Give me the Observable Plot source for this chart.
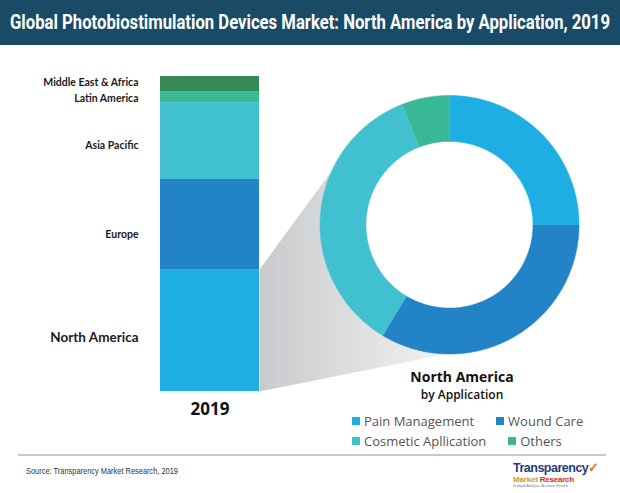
<!DOCTYPE html>
<html><head><meta charset="utf-8">
<script src="https://cdn.jsdelivr.net/npm/d3@7"></script>
<script src="https://cdn.jsdelivr.net/npm/@observablehq/plot@0.6"></script>
<style>
body{margin:0;background:#fff}
#root{position:relative;width:620px;height:493px;overflow:hidden;background:#fff;font-family:"Open Sans",sans-serif}
.abs{position:absolute}
.row{display:flex;align-items:center;height:20px;white-space:nowrap}
.item{display:inline-flex;align-items:center;margin-right:22px}
.sw{width:8px;height:8px;margin-right:4px;display:inline-block}
#titleText{display:inline-block;white-space:nowrap;font-family:Roboto,Arial,sans-serif;font-weight:bold;font-size:21px;line-height:24px;color:#fff;transform-origin:0 50%}
</style></head><body>
<div id="root">
  <div class="abs" style="left:0;top:0;width:620px;height:45px;background:#194b66;overflow:hidden">
    <div class="abs" style="left:10px;top:10px;width:600px"><span id="titleText">Global Photobiostimulation Devices Market: North America by Application, 2019</span></div>
  </div>
  <div id="donut" class="abs" style="left:0;top:47px;width:620px;height:408px"></div>
  <div id="bar" class="abs" style="left:0;top:47px;width:280px;height:380px"></div>
  <div class="abs" style="left:362px;top:369px;width:200px;text-align:center;font-weight:700;font-size:14px;line-height:15px;color:#111">North America</div>
  <div class="abs" style="left:362px;top:388px;width:200px;text-align:center;font-weight:600;font-size:12px;line-height:13px;color:#111">by Application</div>
  <div id="legend" class="abs" style="left:352px;top:411px;width:265px;font-size:13px;color:#555"></div>
  <div class="abs" style="left:18px;top:454px;width:588px;height:2px;background:#c8c8c8"></div>
  <svg class="abs" style="left:0;top:462px" width="300" height="16">
    <text x="26" y="11.5" textLength="152" lengthAdjust="spacingAndGlyphs" font-family="Liberation Sans, Arial, sans-serif" font-size="9.5" fill="#333">Source: Transparency Market Research, 2019</text>
  </svg>
  <div class="abs" style="left:513px;top:461px;width:85px;line-height:1;font-family:Arial,sans-serif">
    <div style="font-weight:bold;font-size:12.5px;color:#1f3d78;letter-spacing:-0.5px">Transparency<span style="color:#e8771e;font-size:13px">&#10003;</span></div>
    <div style="font-weight:bold;font-size:8px;color:#c9a118;letter-spacing:-0.2px;margin-top:1px">Market <span style="color:#d9262e">Research</span></div>
    <div style="font-size:3.5px;color:#777;margin-top:1px">In-depth Analysis. Accurate Results</div>
  </div>
</div>
<script>
const year = "2019";
const regions = ["North America", "Europe", "Asia Pacific", "Latin America", "Middle East & Africa"];
const regionShares = [38.7, 28.6, 24.4, 3.5, 4.8];
const regionColors = ["#1eaee3", "#2383c7", "#41c1cf", "#3bba96", "#368a55"];

const applications = ["Pain Management", "Wound Care", "Cosmetic Apllication", "Others"];
const applicationShares = [25.0, 33.6, 35.5, 5.9];
const applicationColors = ["#1eaee3", "#2383c7", "#41c1cf", "#38b894"];

// fit the condensed-looking title into the banner width
const tt = document.getElementById("titleText");
tt.style.transform = `scaleX(${600 / tt.getBoundingClientRect().width})`;

const regionTable = regions.map((r, i) => ({year, region: r, share: regionShares[i]}));

function labelMark(names, dy, opts) {
  return Plot.text(regionTable, Plot.stackY({
    y: "share",
    text: d => names.includes(d.region) ? d.region : "",
    frameAnchor: "left", dx: -22, dy, textAnchor: "end",
    fill: "#1a1a1a", fontFamily: "Lato, 'Open Sans', sans-serif", ...opts
  }));
}

const barPlot = Plot.plot({
  width: 280, height: 380,
  marginTop: 29, marginBottom: 36, marginLeft: 160, marginRight: 21,
  style: {background: "transparent", overflow: "visible"},
  x: {domain: [year], padding: 0, label: null},
  y: {domain: [0, 100], axis: null},
  color: {domain: regions, range: regionColors},
  marks: [
    Plot.barY(regionTable, {x: "year", y: "share", fill: "region"}),
    Plot.axisX({tickSize: 0, tickPadding: 11, label: null, fontSize: 17, fontWeight: "bold", fontFamily: "'Open Sans', sans-serif", fill: "#111"}),
    labelMark(["Middle East & Africa"], -1.5, {fontSize: 10.5, fontWeight: "bold"}),
    labelMark(["Latin America"], 1.5, {fontSize: 10.5, fontWeight: "bold"}),
    labelMark(["Asia Pacific"], 4.5, {fontSize: 10.5, fontWeight: "bold"}),
    labelMark(["Europe"], 10, {fontSize: 10.5, fontWeight: "bold"}),
    labelMark(["North America"], 7, {fontSize: 13.5, fontWeight: "bold"})
  ]
});
document.getElementById("bar").append(barPlot);

// donut scales
const donutX = d3.scaleLinear([-1, 1], [319.5, 578.5]);
const donutY = d3.scaleLinear([-1, 1], [306.5, 48]);
const innerR = 0.645;
const rad = deg => deg * Math.PI / 180;

// arcs from the application shares
const total = d3.sum(applicationShares);
const arcs = [];
let acc = 0;
applications.forEach((a, i) => {
  const a0 = acc / total * 360, a1 = (acc + applicationShares[i]) / total * 360;
  acc += applicationShares[i];
  const n = Math.max(4, Math.ceil(a1 - a0));
  for (let k = 0; k <= n; k++) {
    const t = rad(a0 + (a1 - a0) * k / n);
    arcs.push({application: a, x: Math.sin(t), y: Math.cos(t)});
  }
  for (let k = n; k >= 0; k--) {
    const t = rad(a0 + (a1 - a0) * k / n);
    arcs.push({application: a, x: innerR * Math.sin(t), y: innerR * Math.cos(t)});
  }
});

// connector from the North America bar segment to the donut
const bx = barPlot.scale("x"), by = barPlot.scale("y");
const barRight = bx.apply(year) + bx.bandwidth;
const naTop = by.apply(regionShares[0]);
const naBottom = by.apply(0);
const connector = [{x: donutX.invert(barRight), y: donutY.invert(naTop)}];
for (let deg = 295; deg >= 180; deg -= 2) connector.push({x: Math.sin(rad(deg)), y: Math.cos(rad(deg))});
connector.push({x: donutX.invert(barRight), y: donutY.invert(naBottom)});

const donutPlot = Plot.plot({
  width: 620, height: 408, margin: 0,
  style: {background: "transparent", overflow: "visible"},
  x: {domain: donutX.domain(), range: donutX.range(), axis: null},
  y: {domain: donutY.domain(), range: donutY.range(), axis: null},
  color: {domain: applications, range: applicationColors},
  marks: [
    Plot.line(connector, {x: "x", y: "y", fill: "url(#connGrad)", stroke: "none"}),
    Plot.line(arcs, {x: "x", y: "y", z: "application", fill: "application", stroke: "application", strokeWidth: 0.6})
  ]
});
d3.select(donutPlot).insert("defs", ":first-child").html(
  '<linearGradient id="connGrad" x1="0" x2="1" y1="0" y2="0"><stop offset="0" stop-color="#c9cacd"/><stop offset="1" stop-color="#f2f2f2"/></linearGradient>'
);
document.getElementById("donut").append(donutPlot);

// legend
const legend = d3.select("#legend");
[[0, 1], [2, 3]].forEach(pair => {
  const row = legend.append("div").attr("class", "row");
  pair.forEach(i => {
    const it = row.append("span").attr("class", "item");
    it.append("span").attr("class", "sw").style("background", applicationColors[i]);
    it.append("span").text(applications[i]);
  });
});
</script>
</body></html>
